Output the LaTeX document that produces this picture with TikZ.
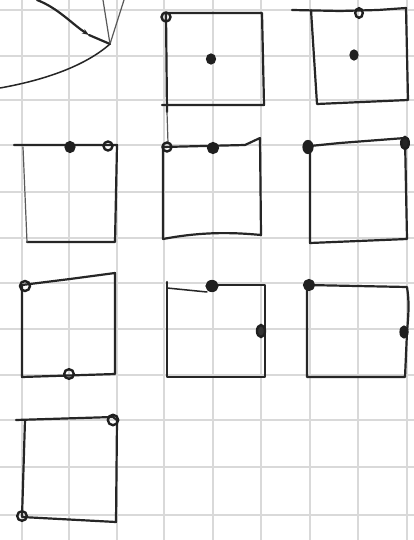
\documentclass[tikz,border=0pt]{standalone}
\usetikzlibrary{arrows.meta}
\begin{document}
\begin{tikzpicture}[x=1pt,y=-1pt,
  gridline/.style={draw=black!15,line width=2pt},
  pen/.style={draw=black!85,line width=2.2pt,line join=round,line cap=round},
  thinpen/.style={draw=black!65,line width=1.2pt,line cap=round},
  ring/.style={draw=black!88,line width=2.4pt},
  dot/.style={fill=black!88,draw=black!88,line width=1.2pt}]
\useasboundingbox (0,0) rectangle (414,540);
\fill[white] (0,0) rectangle (414,540);
% grid
\foreach \gx in {22,69,117,164,213,261,310,358,407}{\draw[gridline] (\gx,0) -- (\gx,540);}
\foreach \gy in {10,56,100,145,192,238,283,329,375,420,467,515}{\draw[gridline] (0,\gy) -- (414,\gy);}
% top-left fragment
\coordinate (m) at (110,44);
\coordinate (arr) at (89,35);
\draw[pen,-{Stealth[length=7pt,width=5pt]}] (37,0) .. controls (58,8) and (72,24) .. (arr);
\draw[pen] (arr) -- (m);
\draw[thinpen] (103,0) -- (m);
\draw[thinpen] (124,0) -- (m);
\draw[pen,line width=1.5pt] (m) .. controls (85,66) and (45,80) .. (0,88);
% square A
\draw[pen] (166,13) -- (262,13) -- (264,105) -- (162,105);
\draw[pen] (166,13) -- (167,112);
\draw[thinpen] (167,112) -- (168,143);
\draw[ring] (166,17) circle (4.5);
\fill[dot] (211,59) ellipse (4.5 and 5);
% square B
\draw[pen] (292,10) -- (340,11) -- (378,10) -- (406,8) -- (408,100) -- (317,104) -- (311,10);
\draw[ring] (359,13) ellipse (3.8 and 4.8);
\fill[dot] (354,55) ellipse (4 and 5);
% square C
\draw[pen] (14,145) -- (117,145) -- (115,242) -- (27,242);
\draw[thinpen] (23,147) -- (27,242);
\fill[dot] (70,147) ellipse (5 and 5.5);
\draw[ring] (108,146) circle (4.5);
% square D
\draw[pen] (163,145) -- (163,239) .. controls (200,232) and (230,232) .. (261,235) -- (260,138) -- (245,145) -- (163,147);
\draw[ring] (167,147) circle (4.5);
\fill[dot] (213,148) circle (5.5);
% square E
\draw[pen] (310,146) -- (310,243) -- (407,239) -- (405,138) -- (340,143) -- (310,146);
\fill[dot] (308,147) ellipse (5 and 6.5);
\draw[ring,fill=black!85] (405,143) ellipse (3.8 and 6);
% square F
\draw[pen] (22,285) -- (22,377) -- (115,374) -- (115,273) -- (70,279) -- (22,285);
\draw[ring] (25,286) circle (5);
\draw[ring] (69,374) circle (4.8);
% square G
\draw[pen] (167,282) -- (167,377) -- (265,377) -- (265,285) -- (213,285);
\draw[pen,line width=1.5pt] (167,288) -- (207,292);
\fill[dot] (212,286) ellipse (6 and 5.5);
\draw[ring,fill=black!80] (261,331) ellipse (4 and 6);
% square H
\draw[pen] (307,285) -- (307,377) -- (405,377) -- (407,332) .. controls (409,310) and (409,300) .. (407,287) -- (307,285);
\fill[dot] (309,285) circle (5.5);
\fill[dot] (404,332) ellipse (4 and 6);
% square I
\draw[pen] (16,420) -- (113,417) -- (117,420) -- (116,522) -- (22,517) -- (25,420);
\draw[ring] (113,420) circle (5.2);
\draw[ring] (22,516) circle (4.8);
\end{tikzpicture}
\end{document}
